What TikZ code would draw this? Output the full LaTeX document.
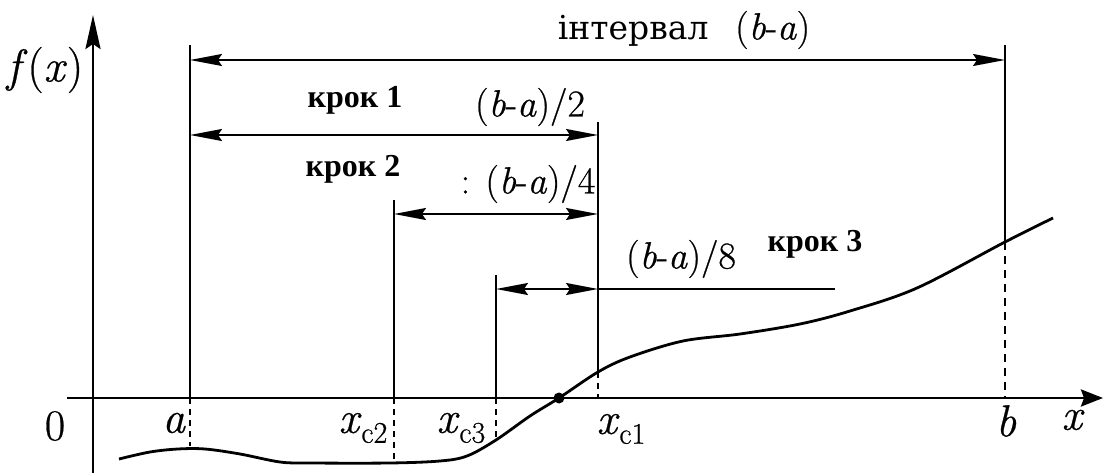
\documentclass[tikz,border=0pt]{standalone}
\usepackage{fontspec}
\setmainfont{Latin Modern Roman}[FakeBold=0.6]
\newfontfamily\cyr{DejaVu Serif}
\newfontfamily\cyrb{Liberation Serif}
\usetikzlibrary{arrows.meta}
\begin{document}
\begin{tikzpicture}[x=1pt,y=-1pt,
  tip/.tip={Stealth[length=32pt,width=12pt,inset=4pt]},
  dimarrow/.style={line width=1.7pt,{tip}-{tip}},
  guide/.style={line width=1.8pt},
  guidedash/.style={line width=1.7pt,dash pattern=on 6pt off 5pt},
  axisline/.style={line width=2.8pt},
  boldlbl/.style={font=\fontsize{32}{32}\selectfont\cyrb\bfseries,inner sep=0pt},
  formlbl/.style={font=\fontsize{38}{38}\selectfont,inner sep=0pt},
  axlbl/.style={font=\fontsize{45}{45}\selectfont,inner sep=0pt}]
\useasboundingbox (0,0) rectangle (1104,473);
% key coordinates
\coordinate (yB) at (93,473);
\coordinate (yT) at (93,15);
\coordinate (xL) at (67,398);
\coordinate (xR) at (1103,398);
\coordinate (aT) at (190,45);   \coordinate (aA) at (190,398);  \coordinate (aC) at (190,446);
\coordinate (bT) at (1005,45);  \coordinate (bC) at (1005,242); \coordinate (bA) at (1005,398);
\coordinate (c1T) at (598,122); \coordinate (c1C) at (598,372); \coordinate (c1A) at (598,398);
\coordinate (c2T) at (394,200); \coordinate (c2A) at (394,398); \coordinate (c2C) at (394,461);
\coordinate (c3T) at (496,275); \coordinate (c3A) at (496,398); \coordinate (c3C) at (496,440);
\coordinate (i1) at (190,60);   \coordinate (i2) at (1005,60);
\coordinate (k1a) at (190,135); \coordinate (k1b) at (598,135);
\coordinate (k2a) at (394,214); \coordinate (k2b) at (598,214);
\coordinate (k3a) at (496,289); \coordinate (k3b) at (598,289); \coordinate (k3e) at (835,289);
% axes
\draw[axisline,-{Stealth[length=34pt,width=15pt,inset=5pt]}] (yB) -- (yT);
\draw[axisline,-{Stealth[length=22pt,width=17pt,inset=3pt]}] (xL) -- (xR);
% guides
\draw[guide] (aT) -- (aA);   \draw[guidedash] (aA) -- (aC);
\draw[guide] (bT) -- (bC);   \draw[guidedash,line width=2.4pt,dash pattern=on 8pt off 6pt] (bC) -- (bA);
\draw[guide] (c1T) -- (c1C); \draw[guidedash] (c1C) -- (c1A);
\draw[guide] (c2T) -- (c2A); \draw[guidedash] (c2A) -- (c2C);
\draw[guide] (c3T) -- (c3A); \draw[guidedash] (c3A) -- (c3C);
% dimension arrows
\draw[dimarrow] (i1) -- (i2);
\draw[dimarrow] (k1a) -- (k1b);
\draw[dimarrow] (k2a) -- (k2b);
\draw[dimarrow] (k3a) -- (k3b);
\draw[line width=1.4pt] (k3b) -- (k3e);
% curve
\draw[line width=2.8pt] plot[smooth,tension=0.55] coordinates {
 (119,459) (150,452) (178,449) (205,449) (240,454) (280,462) (310,463)
 (390,463) (440,461) (467,456) (496,440) (530,416) (559,398) (598,372)
 (630,357) (683,341) (740,334) (800,324) (850,311) (917,288) (1005,242) (1053,218)};
\fill (559,398) coordinate (root) circle (5.5pt);
% labels
\node[formlbl] (lint) at (684,30) {{\cyr\fontsize{33}{33}\selectfont інтервал}\hspace{0.4em} (\textit{b}-\textit{a})};
\node[boldlbl] (lk1) at (355,100) {крок 1};
\node[formlbl] (lh2) at (530,107) {(\textit{b}-\textit{a})/2};
\node[boldlbl] (lk2) at (353,169) {крок 2};
\node[formlbl] (lh4) at (528,184) {: (\textit{b}-\textit{a})/4};
\node[formlbl] (lh8) at (681,259) {(\textit{b}-\textit{a})/8};
\node[boldlbl] (lk3) at (815,244) {крок 3};
\node[font=\fontsize{46}{46}\selectfont,inner sep=0pt] (lfx) at (45,70) {\textit{f}(\textit{x})};
\node[font=\fontsize{44}{44}\selectfont,inner sep=0pt] (l0) at (55,426) {0};
\node[axlbl] (la) at (174,423) {\textit{a}};
\node[axlbl] (lb) at (1006,421) {\textit{b}};
\node[axlbl] (lx) at (1073,420) {\textit{x}};
\node[axlbl] (lc2) at (363,428) {\textit{x}\raisebox{-0.22em}{\fontsize{30}{30}\selectfont c2}};
\node[axlbl] (lc3) at (461,428) {\textit{x}\raisebox{-0.22em}{\fontsize{30}{30}\selectfont c3}};
\node[axlbl] (lc1) at (621,429) {\textit{x}\raisebox{-0.22em}{\fontsize{30}{30}\selectfont c1}};
\end{tikzpicture}
\end{document}
